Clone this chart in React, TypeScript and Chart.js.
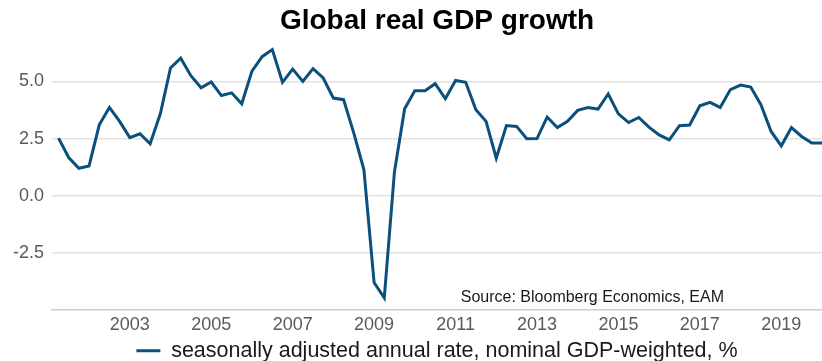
import React, { useEffect, useRef } from "react";
import { Chart, registerables } from "chart.js";

Chart.register(...registerables);

// Quarterly periods 2001Q1 .. 2019Q4
const startYear = 2001;
const quarters: string[] = Array.from({ length: 76 }, (_, i) => `${startYear + Math.floor(i / 4)}Q${(i % 4) + 1}`);

// seasonally adjusted annual rate, nominal GDP-weighted, %
const growth: number[] = [
  2.52, 1.67, 1.20, 1.30, 3.10, 3.86, 3.25, 2.54,
  2.71, 2.27, 3.58, 5.59, 6.02, 5.25, 4.72, 4.97,
  4.38, 4.50, 4.02, 5.45, 6.08, 6.39, 4.96, 5.54,
  5.00, 5.56, 5.15, 4.27, 4.20, 2.75, 1.13, -3.80,
  -4.47, 1.05, 3.80, 4.59, 4.59, 4.90, 4.24, 5.04,
  4.96, 3.76, 3.25, 1.64, 3.07, 3.03, 2.49, 2.50,
  3.44, 2.98, 3.25, 3.73, 3.86, 3.79, 4.45, 3.58,
  3.20, 3.42, 3.00, 2.66, 2.44, 3.06, 3.09, 3.93,
  4.08, 3.86, 4.64, 4.84, 4.75, 3.98, 2.81, 2.18,
  2.98, 2.59, 2.30, 2.30,
];

const xTickLabels: string[] = ["2003", "2005", "2007", "2009", "2011", "2013", "2015", "2017", "2019"];
const yTickValues: number[] = [-2.5, 0, 2.5, 5];

const titleText = "Global real GDP growth";
const seriesLabel = "seasonally adjusted annual rate, nominal GDP-weighted, %";
const sourceText = "Source: Bloomberg Economics, EAM";

const FONT = "Arial, 'Liberation Sans', sans-serif";
const LINE_COLOR = "#0b4f7d";

function quarterToX(q: string): number {
  const year = Number(q.slice(0, 4));
  const qi = Number(q.slice(5));
  return year + qi / 4;
}

const sourcePlugin = {
  id: "sourceNote",
  afterDraw(chart: any) {
    const { ctx, chartArea } = chart;
    ctx.save();
    ctx.font = `16px ${FONT}`;
    ctx.fillStyle = "#1a1a1a";
    ctx.textAlign = "right";
    ctx.textBaseline = "middle";
    ctx.fillText(sourceText, chartArea.right - 98, chartArea.bottom - 12);
    ctx.restore();
  },
};

export default function App() {
  const ref = useRef<HTMLCanvasElement | null>(null);

  useEffect(() => {
    document.body.style.margin = "0";
    if (!ref.current) return;
    const data = quarters.map((q, i) => ({ x: quarterToX(q), y: growth[i] }));
    const chart = new Chart(ref.current, {
      type: "line",
      data: {
        datasets: [
          {
            label: seriesLabel,
            data,
            borderColor: LINE_COLOR,
            backgroundColor: LINE_COLOR,
            borderWidth: 3,
            pointRadius: 0,
            tension: 0,
            fill: false,
          },
        ],
      },
      options: {
        responsive: false,
        animation: false,
        layout: { padding: { left: 5, right: 0, top: 0, bottom: 0 } },
        scales: {
          x: {
            type: "linear",
            min: 2001.09,
            max: 2020.0,
            afterBuildTicks: (scale: any) => {
              scale.ticks = xTickLabels.map((l) => ({ value: Number(l) }));
            },
            ticks: {
              callback: (v: any) => String(v),
              font: { family: FONT, size: 18, lineHeight: 1 },
              color: "#595959",
              padding: 6,
              maxRotation: 0,
              autoSkip: false,
            },
            grid: { display: false, drawTicks: false },
            border: { display: true, color: "#cccccc", width: 1.5 },
          },
          y: {
            min: -5,
            max: 6.74,
            afterBuildTicks: (scale: any) => {
              scale.ticks = yTickValues.map((v) => ({ value: v }));
            },
            ticks: {
              callback: (v: any) => Number(v).toFixed(1),
              font: { family: FONT, size: 18 },
              color: "#595959",
              padding: 8,
            },
            grid: { color: "#e2e2e2", lineWidth: 1.5, drawTicks: false },
            border: { display: false },
          },
        },
        plugins: {
          title: {
            display: true,
            text: titleText,
            fullSize: false,
            color: "#000000",
            font: { family: FONT, size: 28, weight: "bold" },
            padding: { top: 4, bottom: 4 },
          },
          legend: {
            display: true,
            position: "bottom",
            fullSize: false,
            maxHeight: 21,
            labels: {
              usePointStyle: true,
              pointStyle: "line",
              pointStyleWidth: 24,
              boxHeight: 10,
              color: "#1a1a1a",
              font: { family: FONT, size: 21.5 },
              padding: 0,
            },
          },
          tooltip: { enabled: false },
        },
      },
      plugins: [sourcePlugin],
    });
    return () => chart.destroy();
  }, []);

  return (
    <div style={{ width: 822, height: 361, position: "relative" }}>
      <canvas ref={ref} width={822} height={361} />
    </div>
  );
}
